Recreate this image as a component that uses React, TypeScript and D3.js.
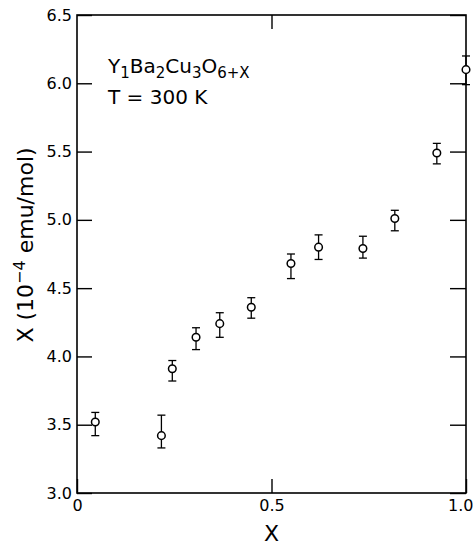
import React from "react";
import * as d3 from "d3";

// oxygen content x and susceptibility (10^-4 emu/mol)
const oxygenX = [0.047, 0.217, 0.245, 0.306, 0.367, 0.448, 0.55, 0.621, 0.735, 0.817, 0.925, 1.0];
const chi = [3.52, 3.42, 3.91, 4.14, 4.24, 4.36, 4.68, 4.8, 4.79, 5.01, 5.49, 6.1];
const chiLow = [3.42, 3.33, 3.82, 4.05, 4.14, 4.28, 4.57, 4.71, 4.72, 4.92, 5.41, 5.99];
const chiHigh = [3.59, 3.57, 3.97, 4.21, 4.32, 4.43, 4.75, 4.89, 4.88, 5.07, 5.56, 6.2];

const xTicks = [0, 0.5, 1.0];
const yTicks = [3.0, 3.5, 4.0, 4.5, 5.0, 5.5, 6.0, 6.5];

const width = 474;
const height = 546;
const left = 77;
const right = 466;
const top = 15;
const bottom = 493;
const font = "DejaVu Sans, Liberation Sans, sans-serif";

export default function App() {
  const getX = d3.scaleLinear().domain([0, 1]).range([left, right]);
  const getY = d3.scaleLinear().domain([3, 6.5]).range([bottom, top]);

  const xFmt = (d: any) => (d === 0 ? "0" : d3.format(".1f")(d));
  const yFmt = (d: any) => d3.format(".1f")(d);

  const styleAxis = (g: any) => {
    g.select(".domain").remove();
    g.selectAll(".tick line").attr("stroke", "#000").attr("stroke-width", 1.4);
    g.selectAll(".tick text")
      .attr("fill", "#000")
      .style("font-family", font)
      .style("font-size", "16px");
  };

  const bottomAxis = (ref: any) => {
    if (!ref) return;
    const axis = d3.axisBottom(getX).tickValues(xTicks).tickFormat(xFmt)
      .tickSizeInner(-14).tickSizeOuter(0).tickPadding(7);
    d3.select(ref).call(axis).call(styleAxis);
    // last label sits against the page edge
    d3.select(ref).selectAll(".tick text")
      .filter((d: any) => d === 1)
      .attr("text-anchor", "end")
      .attr("x", 7);
  };
  const leftAxis = (ref: any) => {
    if (!ref) return;
    const axis = d3.axisLeft(getY).tickValues(yTicks).tickFormat(yFmt)
      .tickSizeInner(-15).tickSizeOuter(0).tickPadding(5);
    d3.select(ref).call(axis).call(styleAxis);
  };
  const topAxis = (ref: any) => {
    if (!ref) return;
    const axis = d3.axisTop(getX).tickValues([0.5]).tickFormat(() => "")
      .tickSizeInner(-14).tickSizeOuter(0);
    d3.select(ref).call(axis).call(styleAxis);
  };
  const rightAxis = (ref: any) => {
    if (!ref) return;
    const axis = d3.axisRight(getY).tickValues(yTicks).tickFormat(() => "")
      .tickSizeInner(-16).tickSizeOuter(0);
    d3.select(ref).call(axis).call(styleAxis);
  };

  const renderPoints = () => {
    let result = [];
    for (let i = 0; i < oxygenX.length; i++) {
      const cx = getX(oxygenX[i]);
      const y0 = getY(chiLow[i]);
      const y1 = getY(chiHigh[i]);
      result.push(
        <g key={i} stroke="#000" strokeWidth={1.3} fill="none">
          <line x1={cx} x2={cx} y1={y0} y2={y1} />
          <line x1={cx - 4} x2={cx + 4} y1={y0} y2={y0} />
          <line x1={cx - 4} x2={cx + 4} y1={y1} y2={y1} />
          <circle cx={cx} cy={getY(chi[i])} r={3.8} fill="#fff" strokeWidth={1.5} />
        </g>
      );
    }
    return result;
  };

  return (
    <svg width={width} height={height} style={{ position: "absolute", left: 0, top: 0, background: "#fff" }}>
      <rect x={left} y={top} width={right - left} height={bottom - top} fill="none" stroke="#000" strokeWidth={1.6} />
      <g ref={bottomAxis} transform={`translate(0, ${bottom})`} />
      <g ref={leftAxis} transform={`translate(${left}, 0)`} />
      <g ref={topAxis} transform={`translate(0, ${top})`} />
      <g ref={rightAxis} transform={`translate(${right}, 0)`} />
      {renderPoints()}

      <text x={108} y={73} fontFamily={font} fontSize={20} fill="#000">
        Y<tspan fontSize={15} dy={5}>1</tspan>
        <tspan dy={-5}>Ba</tspan><tspan fontSize={15} dy={5}>2</tspan>
        <tspan dy={-5}>Cu</tspan><tspan fontSize={15} dy={5}>3</tspan>
        <tspan dy={-5}>O</tspan><tspan fontSize={15} dy={5}>6+X</tspan>
      </text>
      <text x={108} y={104} fontFamily={font} fontSize={20} fill="#000">T = 300 K</text>

      <text x={(left + right) / 2} y={541} textAnchor="middle" fontFamily={font} fontSize={22} fill="#000">X</text>
      <text transform="translate(33, 245) rotate(-90)" textAnchor="middle" fontFamily={font} fontSize={22} fill="#000">
        Χ (10<tspan fontSize={16} dy={-8}>−4</tspan><tspan dy={8}> emu/mol)</tspan>
      </text>
    </svg>
  );
}
